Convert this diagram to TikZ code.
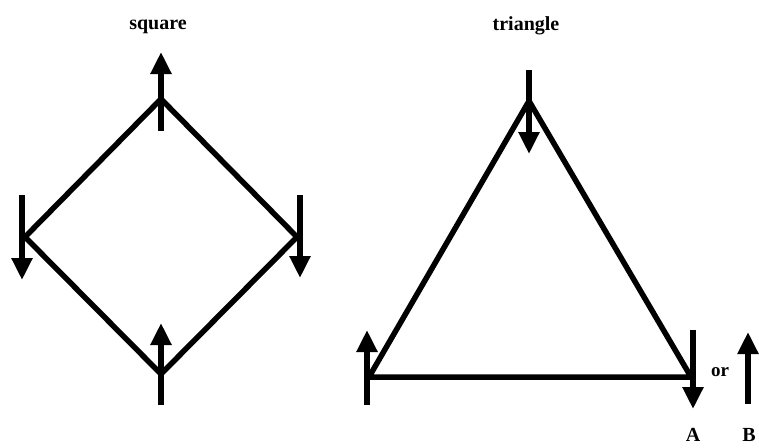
\documentclass[tikz,border=0pt]{standalone}
\usepackage{fontspec}
\setmainfont{Liberation Serif}
\usetikzlibrary{arrows.meta}
\begin{document}
\begin{tikzpicture}[x=1pt,y=-1pt,
  edge/.style={line width=5.5pt,line join=miter},
  vec/.style={line width=5.5pt,-{Triangle[width=20pt,length=22pt]}},
  lbl/.style={font=\bfseries\fontsize{20}{22}\selectfont,inner sep=0pt}]
\useasboundingbox (0,0) rectangle (759,447);
% square
\coordinate (sT) at (161,99);
\coordinate (sL) at (25,237);
\coordinate (sR) at (297,237);
\coordinate (sB) at (161,374);
\draw[edge] (sT) -- (sR) -- (sB) -- (sL) -- cycle;
\coordinate (sTa) at (161,131);
\coordinate (sTb) at (161,52);
\coordinate (sLa) at (22,195);
\coordinate (sLb) at (22,280);
\coordinate (sRa) at (300,195);
\coordinate (sRb) at (300,278);
\coordinate (sBa) at (161,405);
\coordinate (sBb) at (161,323);
\draw[vec] (sTa) -- (sTb);
\draw[vec] (sLa) -- (sLb);
\draw[vec] (sRa) -- (sRb);
\draw[vec] (sBa) -- (sBb);
\node[lbl] (sq) at (158,27) {square};
% triangle
\coordinate (tT) at (529,101);
\coordinate (tL) at (369,377);
\coordinate (tR) at (691,377);
\draw[edge] (tT) -- (tR) -- (tL) -- cycle;
\coordinate (tTa) at (529,70);
\coordinate (tTb) at (529,154);
\coordinate (tLa) at (367,405);
\coordinate (tLb) at (367,330);
\coordinate (tRa) at (693,330);
\coordinate (tRb) at (693,409);
\draw[vec] (tTa) -- (tTb);
\draw[vec] (tLa) -- (tLb);
\draw[vec] (tRa) -- (tRb);
\node[lbl] (tri) at (526,26) {triangle};
% legend
\coordinate (Ba) at (748,404);
\coordinate (Bb) at (748,332);
\draw[vec] (Ba) -- (Bb);
\node[lbl,font=\bfseries\fontsize{19}{21}\selectfont] (or) at (720,372) {or};
\node[lbl] (A) at (693,435) {A};
\node[lbl] (B) at (749,435) {B};
\end{tikzpicture}
\end{document}
